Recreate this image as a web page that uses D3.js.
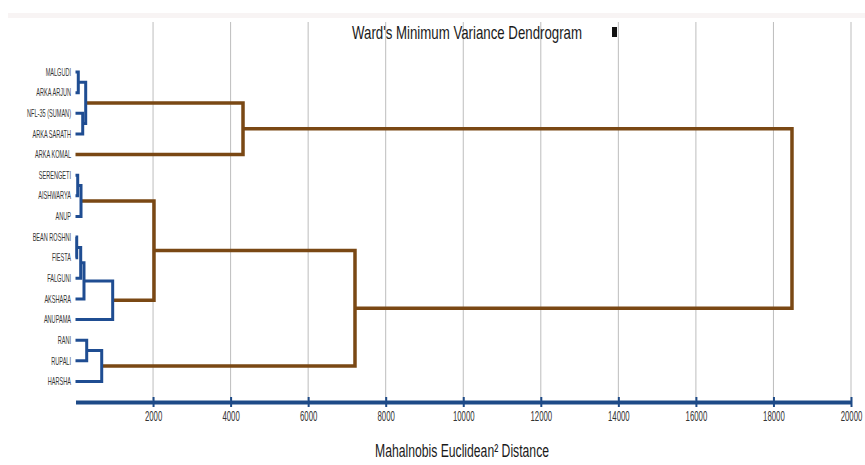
<!DOCTYPE html>
<html>
<head>
<meta charset="utf-8">
<script src="https://cdn.jsdelivr.net/npm/d3@7"></script>
<style>
  html, body { margin: 0; padding: 0; background: #fff; }
  svg { display: block; }
  text { font-family: "Liberation Sans Narrow", "Arial Narrow", "Liberation Sans", Arial, sans-serif; }
</style>
</head>
<body>
<svg id="chart" width="865" height="465"></svg>
<script>
// Leaf order as laid out top to bottom
const leaves = [
  "MALGUDI", "ARKA ARJUN", "NFL-35 (SUMAN)", "ARKA SARATH", "ARKA KOMAL",
  "SERENGETI", "AISHWARYA", "ANUP",
  "BEAN ROSHNI", "FIESTA", "FALGUNI", "AKSHARA", "ANUPAMA",
  "RANI", "RUPALI", "HARSHA"
];

// Agglomeration steps: [left member, right member, joining distance]
// Members are leaf names or ids of earlier steps ("#n").
const merges = [
  ["BEAN ROSHNI", "FIESTA", 31],        // #0
  ["SERENGETI", "AISHWARYA", 57],       // #1
  ["MALGUDI", "ARKA ARJUN", 72],        // #2
  ["#0", "FALGUNI", 134],               // #3
  ["#1", "ANUP", 142],                  // #4
  ["NFL-35 (SUMAN)", "ARKA SARATH", 186], // #5
  ["#3", "AKSHARA", 219],               // #6
  ["#2", "#5", 263],                    // #7
  ["RANI", "RUPALI", 289],              // #8
  ["#8", "HARSHA", 676],                // #9
  ["#6", "ANUPAMA", 959],               // #10
  ["#4", "#10", 2024],                  // #11
  ["#7", "ARKA KOMAL", 4320],           // #12
  ["#11", "#9", 7208],                  // #13
  ["#12", "#13", 18478]                 // #14
];

const tickValues = [2000, 4000, 6000, 8000, 10000, 12000, 14000, 16000, 18000, 20000];
const titleText = "Ward's Minimum Variance Dendrogram";
const axisTitle = "Mahalnobis Euclidean\u00B2 Distance";

const clusterCut = 1500;
const brown = "#7a4814";
const blue = "#1f4d92";
const axisBlue = "#1d4a87";

const svg = d3.select("#chart");

// squeeze text horizontally into a narrow face
function condense(sel, factor) {
  sel.each(function () {
    const w = this.getComputedTextLength();
    d3.select(this).attr("textLength", w * factor).attr("lengthAdjust", "spacingAndGlyphs");
  });
}

// Build the tree from the merge list
const nodes = {};
leaves.forEach(name => { nodes[name] = { name, height: 0 }; });
merges.forEach((m, i) => {
  nodes["#" + i] = { name: "#" + i, height: m[2], children: [nodes[m[0]], nodes[m[1]]] };
});
const root = d3.hierarchy(nodes["#" + (merges.length - 1)]);

const x = d3.scaleLinear().domain([0, 20000]).range([75.5, 851]);
const yLeaf = d3.scalePoint().domain(leaves).range([72, 381.5]);

// leaf positions from the point scale, internal nodes at the midpoint of their children
root.eachAfter(n => {
  n.y = n.children ? d3.mean(n.children, c => c.y) : yLeaf(n.data.name);
  n.x = x(n.data.height);
});

// faint band across the top
svg.append("rect").attr("x", 8).attr("y", 13).attr("width", 857).attr("height", 5)
  .attr("fill", "#f8f4f4");

// vertical grid lines
svg.append("g").selectAll("line").data(tickValues).join("line")
  .attr("x1", d => x(d)).attr("x2", d => x(d))
  .attr("y1", 22).attr("y2", 400)
  .attr("stroke", "#bdbdbd").attr("stroke-width", 1);

// axis
const axisG = svg.append("g").attr("transform", "translate(0,402)")
  .call(d3.axisBottom(x).tickValues(tickValues).tickSizeInner(5).tickSizeOuter(0).tickPadding(3).tickFormat(d3.format("d")));
axisG.select(".domain").attr("stroke", axisBlue).attr("stroke-width", 4);
axisG.selectAll(".tick line").attr("y1", -5).attr("y2", 5).attr("stroke", axisBlue).attr("stroke-width", 2);
axisG.selectAll(".tick text").attr("fill", "#333").attr("font-size", 15)
  .style("font-family", "'Liberation Sans Narrow', 'Arial Narrow', 'Liberation Sans', sans-serif")
  .call(condense, 0.52);

// dendrogram links: each internal node draws its bracket to both children
const links = root.descendants().filter(n => n.children);
svg.append("g").attr("fill", "none").selectAll("path").data(links).join("path")
  .attr("d", n => {
    const [a, b] = n.children;
    return `M${a.x},${a.y}H${n.x}V${b.y}H${b.x}`;
  })
  .attr("stroke", n => n.data.height >= clusterCut ? brown : blue)
  .attr("stroke-width", n => n.data.height >= clusterCut ? 3.5 : 3)
  .attr("stroke-linejoin", "miter");

// leaf labels
svg.append("g").selectAll("text").data(root.leaves()).join("text")
  .attr("x", 71).attr("y", d => d.y).attr("dy", "0.35em")
  .attr("text-anchor", "end").attr("font-size", 10.5).attr("fill", "#333")
  .text(d => d.data.name)
  .call(condense, 0.53);

// title
svg.append("text").attr("x", 467).attr("y", 39).attr("text-anchor", "middle")
  .attr("font-size", 18.5).attr("fill", "#1a1a1a")
  .attr("textLength", 230).attr("lengthAdjust", "spacingAndGlyphs")
  .text(titleText);
svg.append("rect").attr("x", 612).attr("y", 27).attr("width", 5).attr("height", 10).attr("fill", "#111");

// axis title
svg.append("text").attr("x", 462).attr("y", 457).attr("text-anchor", "middle")
  .attr("font-size", 17.5).attr("fill", "#1a1a1a")
  .attr("textLength", 174).attr("lengthAdjust", "spacingAndGlyphs")
  .text(axisTitle);
</script>
</body>
</html>
